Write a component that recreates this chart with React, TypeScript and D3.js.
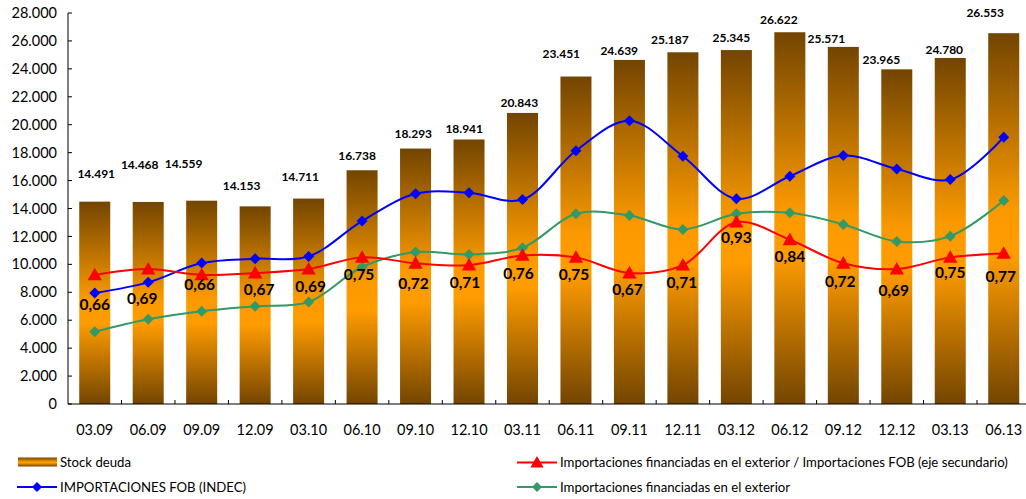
import React from "react";
import * as d3 from "d3";

const categories = ["03.09","06.09","09.09","12.09","03.10","06.10","09.10","12.10","03.11","06.11","09.11","12.11","03.12","06.12","09.12","12.12","03.13","06.13"];
const stockDeuda = [14491,14468,14559,14153,14711,16738,18293,18941,20843,23451,24639,25187,25345,26622,25571,23965,24780,26553];
const importacionesFOB = [7950,8710,10090,10400,10570,13100,15050,15120,14640,18140,20290,17740,14700,16310,17790,16830,16070,19100];
const importacionesFinanciadas = [5170,6070,6640,7000,7310,9810,10880,10710,11190,13620,13500,12500,13620,13690,12860,11640,12020,14570];
const ratio = [0.66,0.69,0.66,0.67,0.69,0.75,0.72,0.71,0.76,0.75,0.67,0.71,0.93,0.84,0.72,0.69,0.75,0.77];
const yTicks = [0,2000,4000,6000,8000,10000,12000,14000,16000,18000,20000,22000,24000,26000,28000];

// label placement nudges (layout only)
const barLabelDx = [1.5,-8.5,-18,-13.5,-8.4,-5,-2.3,-4.8,-3.2,-14.7,-10.2,-13,-5,-11,-17,-15.4,-6,-18.5];
const barLabelDy = [28,37,37,21,22,14,15,11,10,23,9,12,12.5,12,8,9.5,8,20];
const ratioLabelDx = [0,-6,-2,4,2,-3,-2,-4,-4,-2,-2,-1,0,0,-3,-3,0,-3];
const ratioLabelDy = [30,29,10,17,17,17,20,17,18,17,17,17,15,17,18,21,15,23];

const fmtThousands = (v: number) => d3.format(",")(v).replace(/,/g, ".");
const fmtRatio = (v: number) => v.toFixed(2).replace(".", ",");

const FONT = "Lato, 'Open Sans', sans-serif";

export default function App() {
  const W = 1026, H = 499;
  const left = 68, bottom = 404, top = 13;
  const band = 53.47;
  const right = left + band * categories.length;

  const x = d3.scaleBand<string>().domain(categories).range([left, right]);
  const xc = (i: number) => (x(categories[i]) as number) + x.bandwidth() / 2;
  const bw = x.bandwidth() * 0.58;
  const y = d3.scaleLinear().domain([0, 28000]).range([bottom, top]);
  const y2 = d3.scaleLinear().domain([0, 2]).range([bottom, top]);

  const curve = d3.curveCatmullRom.alpha(0.5);
  const lineFOB = d3.line<number>().x((_, i) => xc(i)).y((d) => y(d)).curve(curve);
  const lineRatio = d3.line<number>().x((_, i) => xc(i)).y((d) => y2(d)).curve(curve);

  const diamond = (cx: number, cy: number, r: number) =>
    `M${cx},${cy - r}L${cx + r},${cy}L${cx},${cy + r}L${cx - r},${cy}Z`;
  const triangle = (cx: number, cy: number, s: number) =>
    `M${cx},${cy - s * 0.6}L${cx + s * 0.6},${cy + s * 0.45}L${cx - s * 0.6},${cy + s * 0.45}Z`;

  const blue = "#0000ff";
  const red = "#ff0000";
  const green = "#339966";

  return (
    <svg width={W} height={H} style={{ position: "absolute", left: 0, top: 0, background: "#fff" }} fontFamily={FONT}>
      <defs>
        <linearGradient id="barGrad" x1="0" y1="0" x2="0" y2="1">
          <stop offset="0" stopColor="#734500" />
          <stop offset="0.48" stopColor="#fb9a00" />
          <stop offset="0.6" stopColor="#ff9c00" />
          <stop offset="1" stopColor="#734500" />
        </linearGradient>
      </defs>

      {/* bars */}
      {stockDeuda.map((v, i) => (
        <rect key={"b" + i} x={xc(i) - bw / 2} y={y(v)} width={bw} height={bottom - y(v)} fill="url(#barGrad)" />
      ))}

      {/* axes */}
      <line x1={left} x2={left} y1={top} y2={bottom} stroke="#000" strokeWidth={1} />
      <line x1={left} x2={W} y1={bottom} y2={bottom} stroke="#000" strokeWidth={1} />
      {yTicks.map((t) => (
        <g key={"yt" + t}>
          <line x1={left} x2={left + 4} y1={y(t)} y2={y(t)} stroke="#000" />
          <text x={57} y={y(t)} dy="0.35em" textAnchor="end" fontSize={14.5} fill="#000">{fmtThousands(t)}</text>
        </g>
      ))}
      {categories.map((c, i) => (
        <g key={"xt" + c}>
          <line x1={(x(c) as number) + x.bandwidth()} x2={(x(c) as number) + x.bandwidth()} y1={bottom - 4} y2={bottom} stroke="#000" />
          <text x={xc(i)} y={430} dy="0.35em" textAnchor="middle" fontSize={14.5} fill="#000">{c}</text>
        </g>
      ))}

      {/* lines */}
      <path d={lineFOB(importacionesFinanciadas) || ""} fill="none" stroke={green} strokeWidth={2} />
      <path d={lineFOB(importacionesFOB) || ""} fill="none" stroke={blue} strokeWidth={2} />
      <path d={lineRatio(ratio) || ""} fill="none" stroke={red} strokeWidth={2} />
      {importacionesFinanciadas.map((v, i) => (
        <path key={"g" + i} d={diamond(xc(i), y(v), 5.5)} fill={green} />
      ))}
      {importacionesFOB.map((v, i) => (
        <path key={"f" + i} d={diamond(xc(i), y(v), 5.5)} fill={blue} />
      ))}
      {ratio.map((v, i) => (
        <path key={"r" + i} d={triangle(xc(i), y2(v), 12)} fill={red} />
      ))}

      {/* bar labels */}
      {stockDeuda.map((v, i) => (
        <text key={"bl" + i} x={xc(i) + barLabelDx[i]} y={y(v) - barLabelDy[i]} dy="0.35em" textAnchor="middle"
          fontSize={12} fontWeight="bold" fill="#000">{fmtThousands(v)}</text>
      ))}
      {/* ratio labels */}
      {ratio.map((v, i) => (
        <text key={"rl" + i} x={xc(i) + ratioLabelDx[i]} y={y2(v) + ratioLabelDy[i]} dy="0.35em" textAnchor="middle"
          fontSize={15.5} fontWeight="bold" fill="#000">{fmtRatio(v)}</text>
      ))}

      {/* legend */}
      <g fontSize={13.2} fill="#000">
        <rect x={18} y={457.5} width={39} height={9} fill="url(#barGrad)" />
        <text x={60} y={462} dy="0.35em">Stock deuda</text>
        <line x1={17} x2={57} y1={487} y2={487} stroke={blue} strokeWidth={2} />
        <path d={diamond(37, 487, 5)} fill={blue} />
        <text x={60} y={487} dy="0.35em">IMPORTACIONES FOB (INDEC)</text>
        <line x1={517} x2={557} y1={462.5} y2={462.5} stroke={red} strokeWidth={2} />
        <path d={triangle(537, 462.5, 11)} fill={red} />
        <text x={560} y={462.5} dy="0.35em">Importaciones financiadas en el exterior / Importaciones FOB (eje secundario)</text>
        <line x1={517} x2={557} y1={487} y2={487} stroke={green} strokeWidth={2} />
        <path d={diamond(537, 487, 5)} fill={green} />
        <text x={560} y={487} dy="0.35em">Importaciones financiadas en el exterior</text>
      </g>
    </svg>
  );
}
